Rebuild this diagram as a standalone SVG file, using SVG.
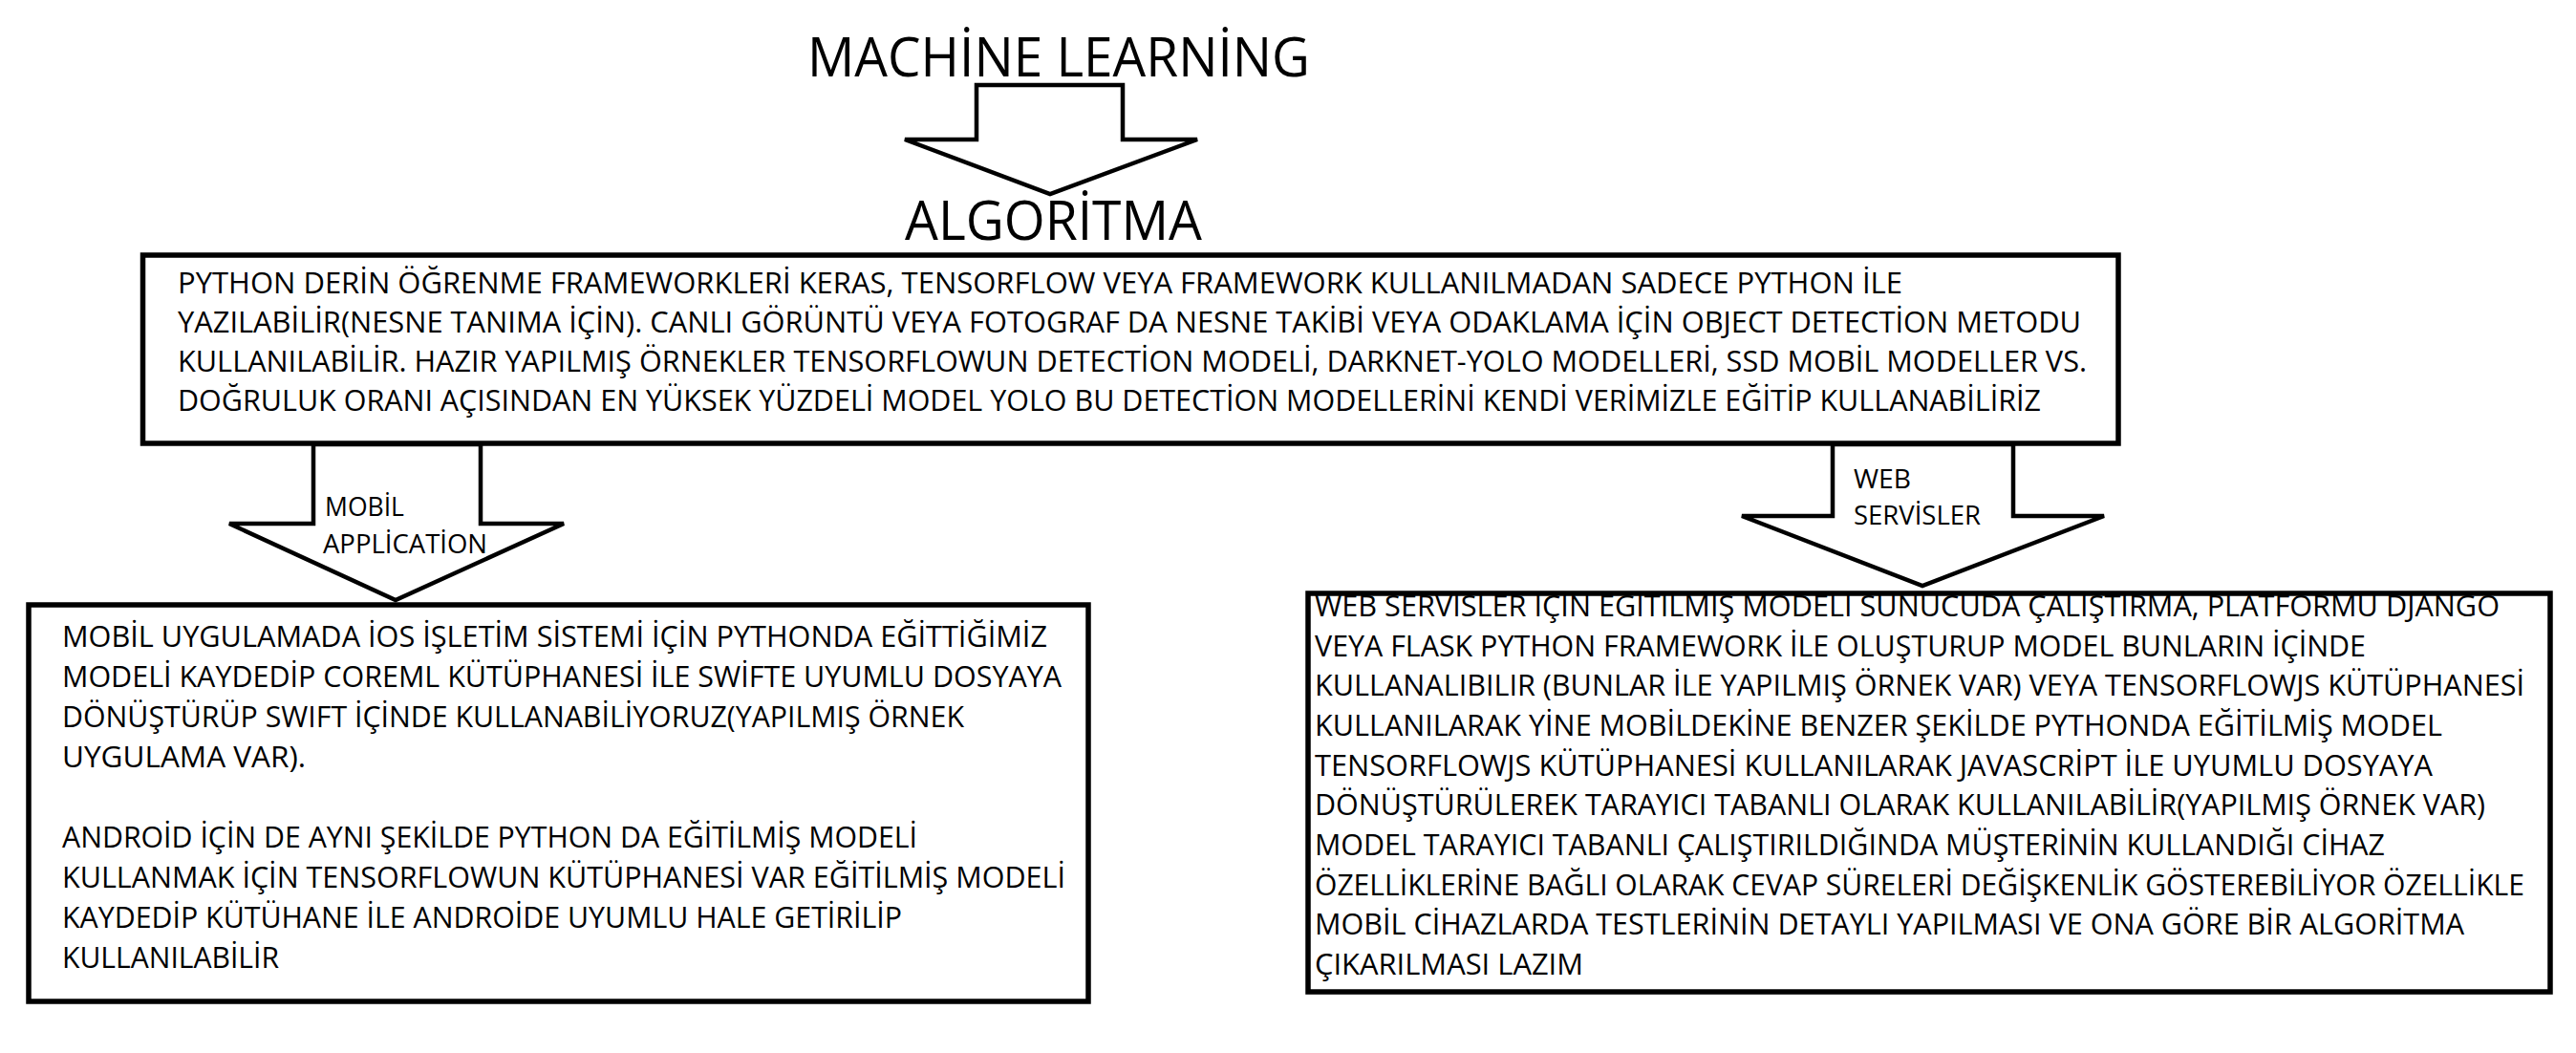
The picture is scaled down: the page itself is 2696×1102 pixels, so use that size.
<svg xmlns="http://www.w3.org/2000/svg" width="2696" height="1102" viewBox="0 0 2696 1102">
<style>
  .bg { fill: #ffffff; }
  .box { fill: #ffffff; stroke: #000000; stroke-width: 5.5; }
  .arrow { fill: #ffffff; stroke: #000000; stroke-width: 4.5; stroke-linejoin: miter; }
  .title { font-family: "Open Sans", "Liberation Sans", sans-serif; font-size: 56px; fill: #000000; }
  .body { font-family: "Open Sans", "Liberation Sans", sans-serif; font-size: 30.5px; fill: #000000; }
  .label { font-family: "Open Sans", "Liberation Sans", sans-serif; font-size: 27px; fill: #000000; }
</style>
<rect class="bg" x="0" y="0" width="2696" height="1102"/>

<g id="node-machine-learning">
  <text class="title" x="845" y="80" textLength="526" lengthAdjust="spacingAndGlyphs">MACHİNE LEARNİNG</text>
</g>

<g id="node-algoritma">
  <text class="title" x="947" y="251" textLength="311" lengthAdjust="spacingAndGlyphs">ALGORİTMA</text>
</g>

<g id="node-main">
  <rect class="box" x="149.5" y="267" width="2067.5" height="197"/>
  <text class="body" x="186" y="307" textLength="1805" lengthAdjust="spacingAndGlyphs">PYTHON DERİN ÖĞRENME FRAMEWORKLERİ KERAS, TENSORFLOW VEYA FRAMEWORK KULLANILMADAN SADECE PYTHON İLE</text>
  <text class="body" x="186" y="348" textLength="1992" lengthAdjust="spacingAndGlyphs">YAZILABİLİR(NESNE TANIMA İÇİN). CANLI GÖRÜNTÜ VEYA FOTOGRAF DA NESNE TAKİBİ VEYA ODAKLAMA İÇİN OBJECT DETECTİON METODU</text>
  <text class="body" x="186" y="389" textLength="1998" lengthAdjust="spacingAndGlyphs">KULLANILABİLİR. HAZIR YAPILMIŞ ÖRNEKLER TENSORFLOWUN DETECTİON MODELİ, DARKNET-YOLO MODELLERİ, SSD MOBİL MODELLER VS.</text>
  <text class="body" x="186" y="430" textLength="1950" lengthAdjust="spacingAndGlyphs">DOĞRULUK ORANI AÇISINDAN EN YÜKSEK YÜZDELİ MODEL YOLO BU DETECTİON MODELLERİNİ KENDİ VERİMİZLE EĞİTİP KULLANABİLİRİZ</text>
</g>

<g id="node-mobil">
  <rect class="box" x="30" y="633" width="1109" height="415"/>
  <text class="body" x="65" y="677" textLength="1031" lengthAdjust="spacingAndGlyphs">MOBİL UYGULAMADA İOS İŞLETİM SİSTEMİ İÇİN PYTHONDA EĞİTTİĞİMİZ</text>
  <text class="body" x="65" y="719" textLength="1046" lengthAdjust="spacingAndGlyphs">MODELİ KAYDEDİP COREML KÜTÜPHANESİ İLE SWİFTE UYUMLU DOSYAYA</text>
  <text class="body" x="65" y="761" textLength="944" lengthAdjust="spacingAndGlyphs">DÖNÜŞTÜRÜP SWIFT İÇİNDE KULLANABİLİYORUZ(YAPILMIŞ ÖRNEK</text>
  <text class="body" x="65" y="803" textLength="255" lengthAdjust="spacingAndGlyphs">UYGULAMA VAR).</text>
  <text class="body" x="65" y="887" textLength="895" lengthAdjust="spacingAndGlyphs">ANDROİD İÇİN DE AYNI ŞEKİLDE PYTHON DA EĞİTİLMİŞ MODELİ</text>
  <text class="body" x="65" y="929" textLength="1050" lengthAdjust="spacingAndGlyphs">KULLANMAK İÇİN TENSORFLOWUN KÜTÜPHANESİ VAR EĞİTİLMİŞ MODELİ</text>
  <text class="body" x="65" y="971" textLength="879" lengthAdjust="spacingAndGlyphs">KAYDEDİP KÜTÜHANE İLE ANDROİDE UYUMLU HALE GETİRİLİP</text>
  <text class="body" x="65" y="1013" textLength="227" lengthAdjust="spacingAndGlyphs">KULLANILABİLİR</text>
</g>

<g id="node-web">
  <rect class="box" x="1369" y="621" width="1300" height="417"/>
  <text class="body" x="1376" y="645" textLength="1240" lengthAdjust="spacingAndGlyphs">WEB SERVISLER IÇIN EGITILMIŞ MODELI SUNUCUDA ÇALIŞTIRMA, PLATFORMU DJANGO</text>
  <text class="body" x="1376" y="687" textLength="1100" lengthAdjust="spacingAndGlyphs">VEYA FLASK PYTHON FRAMEWORK İLE OLUŞTURUP MODEL BUNLARIN İÇİNDE</text>
  <text class="body" x="1376" y="728" textLength="1266" lengthAdjust="spacingAndGlyphs">KULLANALIBILIR (BUNLAR İLE YAPILMIŞ ÖRNEK VAR) VEYA TENSORFLOWJS KÜTÜPHANESİ</text>
  <text class="body" x="1376" y="770" textLength="1180" lengthAdjust="spacingAndGlyphs">KULLANILARAK YİNE MOBİLDEKİNE BENZER ŞEKİLDE PYTHONDA EĞİTİLMİŞ MODEL</text>
  <text class="body" x="1376" y="812" textLength="1170" lengthAdjust="spacingAndGlyphs">TENSORFLOWJS KÜTÜPHANESİ KULLANILARAK JAVASCRİPT İLE UYUMLU DOSYAYA</text>
  <text class="body" x="1376" y="853" textLength="1225" lengthAdjust="spacingAndGlyphs">DÖNÜŞTÜRÜLEREK TARAYICI TABANLI OLARAK KULLANILABİLİR(YAPILMIŞ ÖRNEK VAR)</text>
  <text class="body" x="1376" y="895" textLength="1120" lengthAdjust="spacingAndGlyphs">MODEL TARAYICI TABANLI ÇALIŞTIRILDIĞINDA MÜŞTERİNİN KULLANDIĞI CİHAZ</text>
  <text class="body" x="1376" y="937" textLength="1266" lengthAdjust="spacingAndGlyphs">ÖZELLİKLERİNE BAĞLI OLARAK CEVAP SÜRELERİ DEĞİŞKENLİK GÖSTEREBİLİYOR ÖZELLİKLE</text>
  <text class="body" x="1376" y="978" textLength="1203" lengthAdjust="spacingAndGlyphs">MOBİL CİHAZLARDA TESTLERİNİN DETAYLI YAPILMASI VE ONA GÖRE BİR ALGORİTMA</text>
  <text class="body" x="1376" y="1020" textLength="281" lengthAdjust="spacingAndGlyphs">ÇIKARILMASI LAZIM</text>
</g>

<g id="connectors">
  <polygon id="arrow-ml-algoritma" class="arrow" points="1022,89 1175,89 1175,146 1253,146 1099,203 947,146 1022,146"/>
  <g id="arrow-mobil">
    <polygon class="arrow" points="328,465 503,465 503,548 590,548 414,628 240,548 328,548"/>
    <text class="label" x="340" y="540" textLength="83" lengthAdjust="spacingAndGlyphs">MOBİL</text>
    <text class="label" x="338" y="579" textLength="172" lengthAdjust="spacingAndGlyphs">APPLİCATİON</text>
  </g>
  <g id="arrow-web">
    <polygon class="arrow" points="1918,465 2107,465 2107,540 2202,540 2012,613 1823,540 1918,540"/>
    <text class="label" x="1940" y="511" textLength="60" lengthAdjust="spacingAndGlyphs">WEB</text>
    <text class="label" x="1940" y="549" textLength="133" lengthAdjust="spacingAndGlyphs">SERVİSLER</text>
  </g>
</g>
</svg>
